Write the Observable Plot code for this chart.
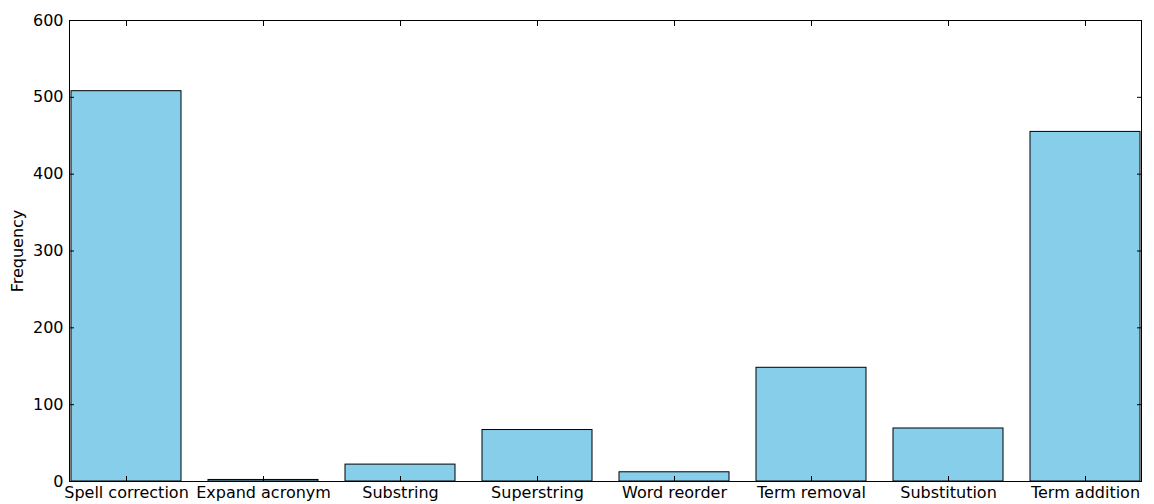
<!DOCTYPE html>
<html>
<head>
<meta charset="utf-8">
<script src="https://cdn.jsdelivr.net/npm/d3@7"></script>
<script src="https://cdn.jsdelivr.net/npm/@observablehq/plot@0.6"></script>
<style>
  body { margin: 0; background: #fff; }
  #chart svg { display: block; }
</style>
</head>
<body>
<div id="chart"></div>
<script>
// Query reformulation types and how often each occurs
const categories = [
  "Spell correction", "Expand acronym", "Substring", "Superstring",
  "Word reorder", "Term removal", "Substitution", "Term addition"
];
const frequencies = [508, 2, 22, 67, 12, 148, 69, 455];
const yTicks = [0, 100, 200, 300, 400, 500, 600];

const data = categories.map((category, i) => ({category, frequency: frequencies[i]}));

const chart = Plot.plot({
  width: 1154,
  height: 504,
  marginLeft: 69,
  marginRight: 13,
  marginTop: 20,
  marginBottom: 23,
  style: {fontFamily: "DejaVu Sans", fontSize: "16px", color: "black", background: "white"},
  x: {domain: categories, paddingInner: 0.2, paddingOuter: 0, label: null},
  y: {domain: [0, 600], label: null},
  marks: [
    Plot.barY(data, {x: "category", y: "frequency", fill: "#87ceeb", stroke: "black", strokeWidth: 1}),
    Plot.frame({stroke: "black", strokeWidth: 1}),
    // category labels below, inward ticks on bottom and top edges
    Plot.axisX({anchor: "bottom", tickSize: 0, tickPadding: 5, label: null}),
    Plot.axisX({anchor: "bottom", tickSize: -5, fill: "none", label: null}),
    Plot.axisX({anchor: "top", tickSize: -5, fill: "none", label: null}),
    // value labels on the left, inward ticks on left and right edges
    Plot.axisY(yTicks, {anchor: "left", tickSize: 0, tickPadding: 6, label: "Frequency",
      labelAnchor: "center", labelArrow: "none", labelOffset: 58}),
    Plot.axisY(yTicks, {anchor: "left", tickSize: -5, fill: "none", label: null}),
    Plot.axisY(yTicks, {anchor: "right", tickSize: -5, fill: "none", label: null})
  ]
});

document.getElementById("chart").append(chart);
</script>
</body>
</html>
